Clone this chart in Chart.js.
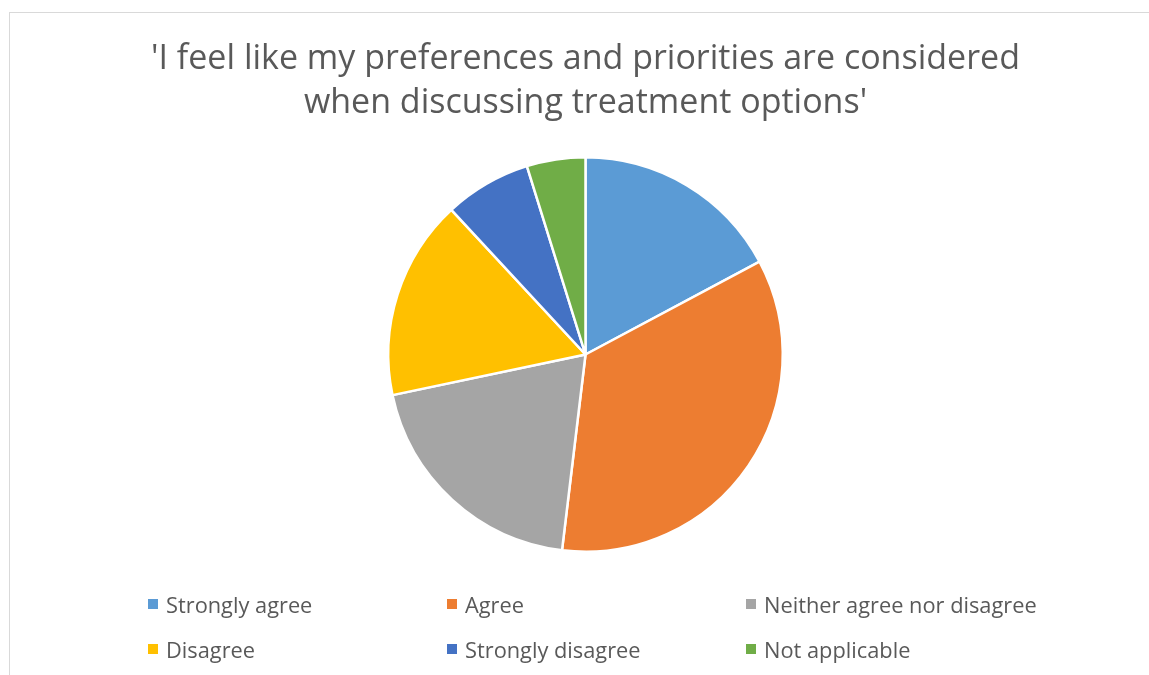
<!DOCTYPE html>
<html>
<head>
<meta charset="utf-8">
<script src="https://cdn.jsdelivr.net/npm/chart.js@4"></script>
<style>
  html, body { margin: 0; padding: 0; background: #fff; }
  #wrap { position: relative; width: 1149px; height: 675px; overflow: hidden; }
  #frame { position: absolute; left: 9px; top: 12px; width: 1160px; height: 700px;
           border: 1.5px solid #d9d9d9; box-sizing: border-box; }
  #chart { position: absolute; left: 0; top: 0; }
  #legend { position: absolute; left: 148px; top: 589px; display: grid;
            grid-template-columns: 299px 299px 299px; row-gap: 15px;
            font-family: "Open Sans", sans-serif; font-size: 21.8px; color: #595959; }
  .item { display: flex; align-items: center; height: 30px; white-space: nowrap; }
  .box { width: 10px; height: 10px; margin-right: 8px; flex: none; }
</style>
</head>
<body>
<div id="wrap">
  <div id="frame"></div>
  <canvas id="chart" width="1149" height="675"></canvas>
  <div id="legend"></div>
</div>
<script>
// Survey responses (% of respondents)
const categories = ['Strongly agree', 'Agree', 'Neither agree nor disagree', 'Disagree', 'Strongly disagree', 'Not applicable'];
const shares = [17.2, 34.7, 19.8, 16.4, 7.1, 4.8];
const colours = ['#5B9BD5', '#ED7D31', '#A5A5A5', '#FFC000', '#4472C4', '#70AD47'];
const titleLines = ["'I feel like my preferences and priorities are considered", "when discussing treatment options'"];

new Chart(document.getElementById('chart'), {
  type: 'pie',
  data: {
    labels: categories,
    datasets: [{
      data: shares,
      backgroundColor: colours,
      borderColor: '#ffffff',
      borderWidth: 2.5
    }]
  },
  options: {
    responsive: false,
    animation: false,
    layout: { padding: { left: 22, right: 0, top: 0, bottom: 122 } },
    plugins: {
      legend: { display: false },
      tooltip: { enabled: false },
      title: {
        display: true,
        text: titleLines,
        color: '#595959',
        font: { family: '"Open Sans", sans-serif', size: 34, weight: 'normal', lineHeight: 44 / 34 },
        padding: { top: 37, bottom: 31 }
      }
    }
  }
});

// Legend in three columns below the pie
const legend = document.getElementById('legend');
categories.forEach((name, i) => {
  const item = document.createElement('div');
  item.className = 'item';
  const box = document.createElement('span');
  box.className = 'box';
  box.style.background = colours[i];
  const label = document.createElement('span');
  label.textContent = name;
  item.appendChild(box);
  item.appendChild(label);
  legend.appendChild(item);
});
</script>
</body>
</html>
